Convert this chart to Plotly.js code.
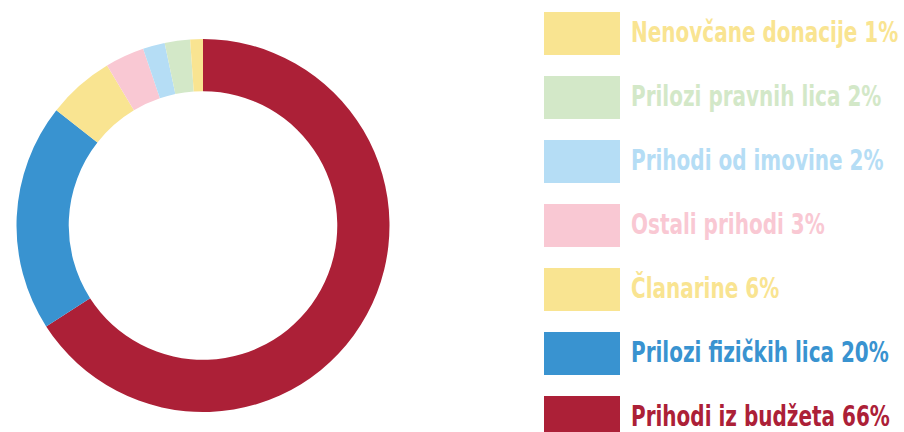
<!DOCTYPE html>
<html>
<head>
<meta charset="utf-8">
<script src="https://cdn.plot.ly/plotly-3.0.1.min.js"></script>
<style>html,body{margin:0;padding:0;background:#fff;}#chart{width:904px;height:432px;}</style>
</head>
<body>
<div id="chart"></div>
<script>
// Data (pie order: clockwise from 12 o'clock)
const categories = ["Prihodi iz budžeta", "Prilozi fizičkih lica", "Članarine", "Ostali prihodi", "Prihodi od imovine", "Prilozi pravnih lica", "Nenovčane donacije"];
const values = [65.9, 19.7, 5.8, 3.4, 1.9, 2.2, 1.1];
const percentLabels = ["66%", "20%", "6%", "3%", "2%", "2%", "1%"];
const colors = ["#AC2037", "#3993D0", "#F9E491", "#F9C8D3", "#B5DDF5", "#D3E8C8", "#F9E491"];

const W = 904, H = 432;
const px = v => v / W;
const py = v => 1 - v / H;

// Legend order: top to bottom is reverse of pie order
const legendOrder = categories.map((_, i) => i).reverse();
const shapes = [];
const annotations = [];
legendOrder.forEach((idx, row) => {
  const top = 12 + 64 * row;
  shapes.push({
    type: "rect", xref: "paper", yref: "paper",
    x0: px(544), x1: px(620), y0: py(top + 43), y1: py(top),
    fillcolor: colors[idx], line: {width: 0}, layer: "above"
  });
  annotations.push({
    xref: "paper", yref: "paper", x: px(629), y: py(top + 19.6),
    xanchor: "left", yanchor: "middle", align: "left", showarrow: false,
    text: categories[idx] + " " + percentLabels[idx],
    font: {family: "DejaVu Sans", size: 20, color: colors[idx], weight: "bold"}
  });
});

const trace = {
  type: "pie",
  labels: categories,
  values: values,
  hole: 0.72,
  sort: false,
  direction: "clockwise",
  rotation: 0,
  textinfo: "none",
  hoverinfo: "none",
  showlegend: false,
  marker: {colors: colors, line: {width: 0}},
  domain: {x: [px(16.5), px(389.5)], y: [py(412), py(39)]}
};

const layout = {
  width: W, height: H,
  margin: {l: 0, r: 0, t: 0, b: 0},
  paper_bgcolor: "#ffffff",
  plot_bgcolor: "#ffffff",
  showlegend: false,
  shapes: shapes,
  annotations: annotations
};

Plotly.newPlot("chart", [trace], layout, {staticPlot: true, displayModeBar: false}).then(() => {
  // Stretch legend text vertically to mimic a tall, narrow display face
  const s = 1.4;
  document.querySelectorAll("#chart .annotation-text").forEach(t => {
    const bb = t.getBBox();
    const cy = bb.y + bb.height / 2;
    const prev = t.getAttribute("transform") || "";
    t.setAttribute("transform", (prev + " translate(0," + (cy * (1 - s)).toFixed(2) + ") scale(1," + s + ")").trim());
  });
});
</script>
</body>
</html>
